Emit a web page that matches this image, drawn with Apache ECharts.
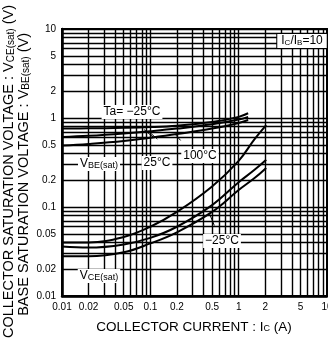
<!DOCTYPE html>
<html>
<head>
<meta charset="utf-8">
<script src="https://cdn.jsdelivr.net/npm/echarts@6/dist/echarts.min.js"></script>
<style>
  html, body { margin: 0; padding: 0; background: #fff; }
  #chart { width: 328px; height: 345px; }
</style>
</head>
<body>
<div id="chart"></div>
<script>
// Tick values shown on both log axes
const xTickValues = [0.01, 0.02, 0.05, 0.1, 0.2, 0.5, 1, 2, 5, 10];
const yTickValues = [0.01, 0.02, 0.05, 0.1, 0.2, 0.5, 1, 2, 5, 10];

// Log-paper rulings: every 1..9 multiple of each decade
const gridValues = [];
[0.01, 0.1, 1].forEach(function (d) {
  for (let k = 1; k <= 9; k++) gridValues.push(+(d * k).toPrecision(3));
});
gridValues.push(10);

// Base-emitter saturation voltage VBE(sat) [Ic (A), V]
const vbeMinus25 = [[0.01, 0.76], [0.02, 0.765], [0.05, 0.775], [0.1, 0.79], [0.2, 0.82], [0.5, 0.9], [1, 1.03], [1.28, 1.13]];
const vbe25 = [[0.01, 0.61], [0.02, 0.63], [0.05, 0.67], [0.1, 0.71], [0.2, 0.76], [0.5, 0.85], [1, 0.96], [1.28, 1.03]];
const vbe100 = [[0.01, 0.49], [0.02, 0.51], [0.05, 0.55], [0.1, 0.6], [0.2, 0.66], [0.5, 0.76], [1, 0.88], [1.28, 0.95]];

// Collector-emitter saturation voltage VCE(sat) [Ic (A), V]
const vce100 = [[0.01, 0.040], [0.02, 0.040], [0.05, 0.046], [0.1, 0.06], [0.2, 0.088], [0.5, 0.17], [1, 0.33], [1.5, 0.57], [2.05, 0.83]];
const vce25 = [[0.01, 0.036], [0.02, 0.035], [0.05, 0.038], [0.1, 0.045], [0.2, 0.06], [0.5, 0.105], [1, 0.19], [1.5, 0.26], [2.05, 0.34]];
const vceMinus25 = [[0.01, 0.028], [0.02, 0.028], [0.05, 0.031], [0.1, 0.039], [0.2, 0.052], [0.5, 0.088], [1, 0.155], [1.5, 0.21], [2.05, 0.275]];

const narrow = '"Liberation Sans Narrow", "Arial Narrow", "Liberation Sans", sans-serif';
const sans = '"Liberation Sans", Arial, sans-serif';

const chart = echarts.init(document.getElementById('chart'), null, { renderer: 'canvas' });

function curve(name, data) {
  return {
    name: name,
    type: 'line',
    data: data,
    smooth: 0.4,
    showSymbol: false,
    silent: true,
    animation: false,
    lineStyle: { color: '#000', width: 2 },
    z: 5
  };
}

function fmt(v) { return String(+(+v).toPrecision(2)); }

const option = {
  animation: false,
  grid: {
    left: 62, right: 1, top: 29, bottom: 49,
    outerBoundsMode: 'none', containLabel: false,
    show: true, borderColor: '#000', borderWidth: 2, backgroundColor: '#fff'
  },
  xAxis: {
    type: 'log', logBase: 10, min: 0.01, max: 10,
    axisLine: { show: true, lineStyle: { color: '#000', width: 2.5 } },
    axisTick: { show: false },
    splitLine: { show: false },
    axisLabel: {
      customValues: xTickValues, formatter: fmt, hideOverlap: false,
      color: '#000', fontFamily: narrow, fontSize: 10, margin: 6
    }
  },
  yAxis: {
    type: 'log', logBase: 10, min: 0.01, max: 10,
    axisLine: { show: true, lineStyle: { color: '#000', width: 2.5 } },
    axisTick: { show: false },
    splitLine: { show: false },
    axisLabel: {
      customValues: yTickValues, formatter: fmt,
      color: '#000', fontFamily: narrow, fontSize: 10, margin: 6
    }
  },
  series: [
    {
      type: 'line', data: [], silent: true,
      markLine: {
        silent: true, symbol: 'none', animation: false,
        label: { show: false },
        lineStyle: { color: '#000', width: 1.4, type: 'solid' },
        data: gridValues.map(function (v) { return { xAxis: v }; })
          .concat(gridValues.map(function (v) { return { yAxis: v }; }))
      },
      z: 2
    },
    curve('VBE -25', vbeMinus25),
    curve('VBE 25', vbe25),
    curve('VBE 100', vbe100),
    curve('VCE 100', vce100),
    curve('VCE 25', vce25),
    curve('VCE -25', vceMinus25)
  ]
};
chart.setOption(option);

// Annotation helpers: leaders are anchored in data space
function px(p) { return chart.convertToPixel({ gridIndex: 0 }, p); }
function leader(from, to) {
  const a = px(from), b = px(to);
  return { type: 'line', z: 60, silent: true,
    shape: { x1: a[0], y1: a[1], x2: b[0], y2: b[1] },
    style: { stroke: '#000', lineWidth: 1 } };
}
function label(x, y, text, size) {
  return {
    type: 'text', x: x, y: y, z: 70, silent: true,
    style: {
      text: text, fill: '#000',
      align: 'center', verticalAlign: 'middle',
      backgroundColor: '#fff', padding: [1, 2],
      rich: { s: { fontSize: Math.round(size * 0.72), fontFamily: sans, padding: [3, 0, 0, 0] },
              n: { fontSize: size, fontFamily: sans } }
    }
  };
}
function title(x, y, text, size, rotated) {
  return {
    type: 'text', x: x, y: y, z: 70, silent: true,
    rotation: rotated ? Math.PI / 2 : 0,
    style: {
      text: text, fill: '#000',
      align: rotated ? 'right' : 'center', verticalAlign: 'middle',
      rich: { n: { fontSize: size, fontFamily: sans },
              s: { fontSize: Math.round(size * 0.68), fontFamily: sans, padding: [4, 0, 0, 0] } }
    }
  };
}

chart.setOption({
  graphic: [
    // axis titles
    title(9, 5, '{n|COLLECTOR SATURATION VOLTAGE : V}{s|CE(sat)}{n| (V)}', 14.5, true),
    title(24, 33, '{n|BASE SATURATION VOLTAGE : V}{s|BE(sat)}{n| (V)}', 14.5, true),
    title(194, 327, '{n|COLLECTOR CURRENT : I}{s|C}{n| (A)}', 13.5, false),
    // curve leaders
    leader([0.085, 0.74], [0.11, 0.6]),
    leader([0.095, 0.71], [0.12, 0.58]),
    leader([0.19, 0.66], [0.22, 0.56]),
    leader([0.47, 0.083], [0.53, 0.062]),
    // curve labels
    label(132, 112, '{n|Ta= \u221225\u00b0C}', 12),
    label(99, 164, '{n|V}{s|BE(sat)}', 12),
    label(157, 163, '{n|25\u00b0C}', 12),
    label(200, 156, '{n|100\u00b0C}', 12),
    label(222, 241, '{n|\u221225\u00b0C}', 12),
    label(99, 276, '{n|V}{s|CE(sat)}', 12),
    // boxed condition label
    {
      type: 'text', x: 302, y: 41, z: 80, silent: true,
      style: {
        text: '{n|I}{s|C}{n|/I}{s|B}{n|=10}', fill: '#000',
        align: 'center', verticalAlign: 'middle',
        backgroundColor: '#fff', borderColor: '#000', borderWidth: 1, padding: [1, 4],
        rich: { n: { fontSize: 12, fontFamily: sans }, s: { fontSize: 8, fontFamily: sans, padding: [3, 0, 0, 0] } }
      }
    }
  ]
});
</script>
</body>
</html>
